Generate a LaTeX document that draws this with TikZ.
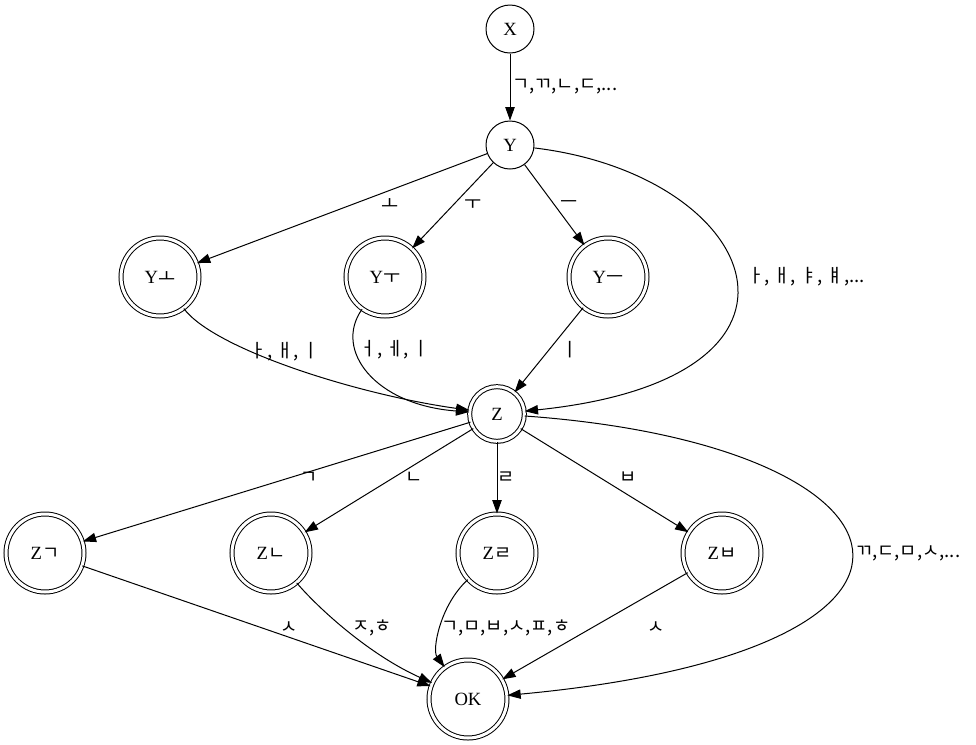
\documentclass[tikz,border=0pt]{standalone}
\usepackage{fontspec}
\setmainfont{Liberation Serif}
\newfontfamily\kr{Noto Sans CJK KR}
\usetikzlibrary{arrows.meta}

\begin{document}
\begin{tikzpicture}[x=0.75pt, y=-0.75pt,
    state/.style={circle, draw, line width=0.75pt, minimum size=36pt, inner sep=0pt, font=\fontsize{14}{16}\selectfont},
    accept/.style={state, double, double distance=2.25pt, minimum size=58.5pt},
    trans/.style={-{Triangle[length=10pt, width=7pt]}, line width=0.75pt},
    lab/.style={inner sep=0pt, font=\kr\fontsize{14}{16}\selectfont}]
    \useasboundingbox (0,0) rectangle (976,744);

    % Draw states
    \node[state] (X) at (510,29) {X};
    \node[state] (Y) at (510,145) {Y};
    \node[accept] (Yo) at (160,277) {Y{\kr ㅗ}};
    \node[accept] (Yu) at (385,277) {Y{\kr ㅜ}};
    \node[accept] (Yeu) at (608,277) {Y{\kr ㅡ}};
    \node[accept, minimum size=41pt] (Z) at (497,414) {Z};
    \node[accept] (Zg) at (45,553) {Z{\kr ㄱ}};
    \node[accept] (Zn) at (271,553) {Z{\kr ㄴ}};
    \node[accept] (Zr) at (497,553) {Z{\kr ㄹ}};
    \node[accept] (Zb) at (722,553) {Z{\kr ㅂ}};
    \node[accept] (OK) at (468,699) {OK};

    % Draw transitions
    \draw[trans] (X) -- (Y);
    \draw[trans] (Y) -- (Yo);
    \draw[trans] (Y) -- (Yu);
    \draw[trans] (Y) -- (Yeu);
    \draw[trans] (Y) .. controls (760,175) and (847,378) .. (Z);
    \draw[trans] (Yo) .. controls (215,350) and (360,395) .. (Z);
    \draw[trans] (Yu) .. controls (333,350) and (375,405) .. (Z);
    \draw[trans] (Yeu) -- (Z);
    \draw[trans] (Z) -- (Zg);
    \draw[trans] (Z) -- (Zn);
    \draw[trans] (Z) -- (Zr);
    \draw[trans] (Z) -- (Zb);
    \draw[trans] (Z) .. controls (930,445) and (995,650) .. (OK);
    \draw[trans] (Zg) -- (OK);
    \draw[trans] (Zn) .. controls (320,610) and (370,655) .. (OK);
    \draw[trans] (Zr) .. controls (440,605) and (432,650) .. (OK);
    \draw[trans] (Zb) -- (OK);

    % Labels
    \node[lab, anchor=west] (lXY) at (512,87) {ㄱ,ㄲ,ㄴ,ㄷ,...};
    \node[lab] (lYo) at (390,205) {ㅗ};
    \node[lab] (lYu) at (473,205) {ㅜ};
    \node[lab] (lYeu) at (569,205) {ㅡ};
    \node[lab, anchor=west] (lYZ) at (747,277) {ㅏ, ㅐ, ㅑ, ㅒ,...};
    \node[lab] (lYoZ) at (285,352) {ㅏ, ㅐ, ㅣ};
    \node[lab] (lYuZ) at (395,350) {ㅓ, ㅔ, ㅣ};
    \node[lab] (lYeuZ) at (570,350) {ㅣ};
    \node[lab] (lZg) at (309,478) {ㄱ};
    \node[lab] (lZn) at (414,478) {ㄴ};
    \node[lab] (lZr) at (506,478) {ㄹ};
    \node[lab] (lZb) at (628,478) {ㅂ};
    \node[lab, anchor=west] (lZOK) at (855,553) {ㄲ,ㄷ,ㅁ,ㅅ,...};
    \node[lab] (lZgOK) at (289,628) {ㅅ};
    \node[lab] (lZnOK) at (372,628) {ㅈ,ㅎ};
    \node[lab, anchor=west] (lZrOK) at (441,628) {ㄱ,ㅁ,ㅂ,ㅅ,ㅍ,ㅎ};
    \node[lab] (lZbOK) at (656,628) {ㅅ};
\end{tikzpicture}
\end{document}
